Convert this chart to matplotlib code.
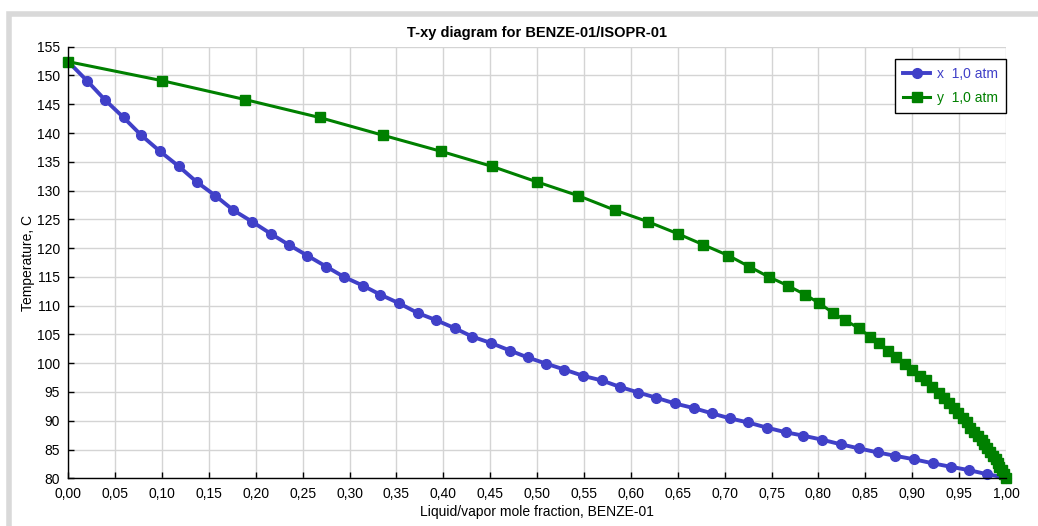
import matplotlib
matplotlib.use('Agg')
import matplotlib.pyplot as plt
from matplotlib.patches import Rectangle
from matplotlib.ticker import FuncFormatter, MultipleLocator

# liquid mole fraction of BENZE-01 (blue points)
x_liq = [0.000, 0.020, 0.039, 0.059, 0.078, 0.098, 0.118, 0.137, 0.157, 0.176,
         0.196, 0.216, 0.235, 0.255, 0.275, 0.294, 0.314, 0.333, 0.353, 0.373,
         0.392, 0.412, 0.431, 0.451, 0.471, 0.490, 0.510, 0.529, 0.549, 0.569,
         0.588, 0.608, 0.627, 0.647, 0.667, 0.686, 0.706, 0.725, 0.745, 0.765,
         0.784, 0.804, 0.824, 0.843, 0.863, 0.882, 0.902, 0.922, 0.941, 0.961,
         0.980, 1.000]
# vapor mole fraction at the same temperatures (green points)
y_vap = [0.000, 0.100, 0.189, 0.268, 0.336, 0.398, 0.452, 0.500, 0.544, 0.583,
         0.618, 0.650, 0.677, 0.704, 0.726, 0.747, 0.767, 0.786, 0.801, 0.816,
         0.828, 0.843, 0.855, 0.865, 0.874, 0.883, 0.892, 0.900, 0.908, 0.915,
         0.921, 0.928, 0.934, 0.939, 0.944, 0.949, 0.954, 0.958, 0.962, 0.966,
         0.970, 0.974, 0.977, 0.980, 0.983, 0.986, 0.989, 0.991, 0.993, 0.996,
         0.998, 1.000]
# temperature, C
temp = [152.4, 149.1, 145.8, 142.7, 139.6, 136.8, 134.2, 131.5, 129.1, 126.6,
        124.6, 122.5, 120.6, 118.7, 116.8, 115.0, 113.5, 111.9, 110.4, 108.7,
        107.5, 106.1, 104.6, 103.5, 102.2, 101.0, 99.9, 98.9, 97.8, 97.0,
        95.9, 94.9, 94.0, 93.0, 92.2, 91.3, 90.4, 89.7, 88.8, 88.0,
        87.4, 86.7, 85.9, 85.2, 84.5, 83.9, 83.3, 82.6, 82.0, 81.4,
        80.7, 80.1]

blue = '#4040c8'
green = '#008000'

plt.rcParams['font.family'] = ['Liberation Sans', 'DejaVu Sans']

fig = plt.figure(figsize=(10.38, 5.26), dpi=100)
ax = fig.add_axes([0.0657, 0.0907, 0.9035, 0.8205])

# grey frame around the chart panel
fig.add_artist(Rectangle((0.0085, -0.05), 1.1, 1.0243, transform=fig.transFigure,
                         fill=False, edgecolor='#d9d9d9', linewidth=4))

ax.plot(x_liq, temp, color=blue, linewidth=2.8, marker='o', markersize=7,
        label='x  1,0 atm', clip_on=False)
ax.plot(y_vap, temp, color=green, linewidth=2.2, marker='s', markersize=7.5,
        label='y  1,0 atm', clip_on=False)

ax.set_xlim(0, 1)
ax.set_ylim(80, 155)
ax.xaxis.set_major_locator(MultipleLocator(0.05))
ax.yaxis.set_major_locator(MultipleLocator(5))
ax.xaxis.set_major_formatter(FuncFormatter(lambda v, p: f'{v:.2f}'.replace('.', ',')))
ax.yaxis.set_major_formatter(FuncFormatter(lambda v, p: f'{v:.0f}'))
ax.tick_params(direction='in', length=4, width=1, labelsize=10, color='black')
ax.tick_params(axis='x', pad=6)
ax.tick_params(axis='y', pad=6)

ax.grid(True, color='#d4d4d4', linewidth=1)
ax.set_axisbelow(True)
for s in ['top', 'right']:
    ax.spines[s].set_visible(False)
for s in ['left', 'bottom']:
    ax.spines[s].set_linewidth(1)

ax.set_title('T-xy diagram for BENZE-01/ISOPR-01', fontsize=10.5, fontweight='bold', pad=7)
ax.set_xlabel('Liquid/vapor mole fraction, BENZE-01', fontsize=10, labelpad=3)
ax.set_ylabel('Temperature, C', fontsize=10, labelpad=1)

leg = ax.legend(loc='upper right', bbox_to_anchor=(1.0, 0.9715), borderaxespad=0,
                fancybox=False, framealpha=1, edgecolor='black', fontsize=10,
                handlelength=2.0, handletextpad=0.5, borderpad=0.55, labelspacing=0.75)
leg.get_frame().set_linewidth(1)
for txt, c in zip(leg.get_texts(), [blue, green]):
    txt.set_color(c)

fig.savefig('out.png', dpi=100)
